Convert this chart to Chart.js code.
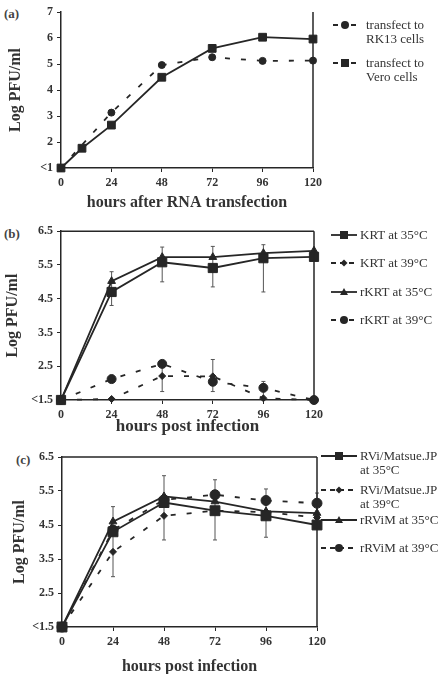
<!DOCTYPE html>
<html lang="en">
<head>
  <meta charset="UTF-8" />
  <title>Virus growth curves</title>
  <script src="https://cdn.jsdelivr.net/npm/chart.js"></script>
  <style>
    body {
      margin: 0;
      width: 444px;
      height: 674px;
      overflow: hidden;
      position: relative;
      background: #fff;
      font-family: 'Liberation Serif', 'Times New Roman', serif;
      color: #333;
    }
    canvas { position: absolute; left: 0; }
    .tag { position: absolute; font-size: 13px; font-weight: bold; color: #444; }
    .leg { position: absolute; left: 0; width: 444px; height: 30px; font-size: 13px; line-height: 14px; white-space: nowrap; }
    .leg svg { position: absolute; top: 0; }
    .leg span { position: absolute; top: 0; }
  </style>
</head>
<body>
  <div class="tag" style="left:4px;top:6px">(a)</div>
  <div class="tag" style="left:4px;top:226px">(b)</div>
  <div class="tag" style="left:16px;top:452px">(c)</div>
  <canvas id="chartA" width="330" height="215" style="top:0"></canvas>
  <canvas id="chartB" width="330" height="220" style="top:220px"></canvas>
  <canvas id="chartC" width="330" height="235" style="top:445px"></canvas>

  <script>
    const FONT = "'Liberation Serif', 'Times New Roman', serif";
    const INK = '#262626';

    // (a) RNA transfection
    const hoursA = [0, 10, 24, 48, 72, 96, 120];
    const rk13 = [1, null, 3.13, 4.96, 5.26, 5.12, 5.13];
    const vero = [1, 1.76, 2.65, 4.49, 5.6, 6.03, 5.96];
    const yTicksA = [1, 2, 3, 4, 5, 6, 7];
    const yLabelsA = ['<1', '2', '3', '4', '5', '6', '7'];

    // (b) KRT
    const hours = [0, 24, 48, 72, 96, 120];
    const krt35 = [1.5, 4.7, 5.58, 5.41, 5.7, 5.74];
    const krt39 = [1.5, 1.53, 2.21, 2.2, 1.55, 1.5];
    const rkrt35 = [1.5, 5.02, 5.73, 5.73, 5.85, 5.92];
    const rkrt39 = [1.5, 2.12, 2.57, 2.04, 1.86, 1.5];
    const errHoursB = [24, 48, 72, 96, 48, 72, 96];
    const errLowB = [4.3, 5.0, 4.85, 4.7, 1.75, 1.75, 1.5];
    const errHighB = [5.3, 6.03, 6.05, 6.1, 2.6, 2.7, 2.05];

    // (c) RVi/Matsue.JP
    const rvi35 = [1.5, 4.3, 5.16, 4.92, 4.77, 4.5];
    const rvi39 = [1.5, 3.71, 4.77, 4.92, 4.88, 4.72];
    const rrvim35 = [1.5, 4.6, 5.34, 5.19, 4.9, 4.85];
    const rrvim39 = [1.5, 4.35, 5.24, 5.39, 5.22, 5.14];
    const errHoursC = [24, 48, 72, 96, 120];
    const errLowC = [2.98, 4.06, 4.06, 4.14, 4.45];
    const errHighC = [5.04, 5.95, 5.83, 5.56, 5.44];

    const xTicks = [0, 24, 48, 72, 96, 120];
    const yTicksBC = [1.5, 2.5, 3.5, 4.5, 5.5, 6.5];
    const yLabelsBC = ['<1.5', '2.5', '3.5', '4.5', '5.5', '6.5'];

    const DASH = [5, 11];

    // draws the vertical error bars through the chart's scales
    const errorBars = {
      id: 'errorBars',
      beforeDatasetsDraw(chart, args, opts) {
        if (!opts.x) return;
        const { ctx, scales: { x, y } } = chart;
        ctx.save();
        ctx.strokeStyle = '#555';
        ctx.lineWidth = 1;
        opts.x.forEach((h, i) => {
          const px = x.getPixelForValue(h);
          const top = y.getPixelForValue(opts.high[i]);
          const bot = y.getPixelForValue(opts.low[i]);
          ctx.beginPath();
          ctx.moveTo(px, top); ctx.lineTo(px, bot);
          ctx.moveTo(px - 2, top); ctx.lineTo(px + 2, top);
          ctx.moveTo(px - 2, bot); ctx.lineTo(px + 2, bot);
          ctx.stroke();
        });
        ctx.restore();
      }
    };

    // extra sides of the plot frame
    const frame = {
      id: 'frame',
      afterDraw(chart, args, opts) {
        const { ctx, chartArea: a } = chart;
        ctx.save();
        ctx.strokeStyle = INK;
        ctx.lineWidth = 1.5;
        ctx.beginPath();
        if (opts.top) { ctx.moveTo(a.left, a.top); ctx.lineTo(a.right, a.top); }
        if (opts.right) { ctx.moveTo(a.right, a.top); ctx.lineTo(a.right, a.bottom); }
        ctx.stroke();
        ctx.restore();
      }
    };

    function series(xs, ys, dash, pointStyle, radius) {
      const data = [];
      xs.forEach((h, i) => { if (ys[i] !== null) data.push({ x: h, y: ys[i] }); });
      return {
        data,
        borderColor: INK,
        backgroundColor: INK,
        borderWidth: 1.8,
        borderDash: dash,
        pointStyle,
        pointRadius: radius,
        pointBackgroundColor: INK,
        pointBorderColor: INK,
        pointBorderWidth: 1,
        tension: 0,
        clip: false
      };
    }

    function makeChart(id, p) {
      const tickFont = { family: FONT, size: 12, weight: 'bold' };
      return new Chart(document.getElementById(id), {
        type: 'line',
        data: { datasets: p.datasets },
        options: {
          responsive: false,
          animation: false,
          devicePixelRatio: 1,
          layout: { padding: { left: 0, top: p.plotTop, right: p.width - p.plotRight, bottom: 0 } },
          plugins: {
            legend: { display: false },
            tooltip: { enabled: false },
            errorBars: p.errors || {},
            frame: p.frame
          },
          scales: {
            x: {
              type: 'linear',
              min: 0,
              max: 120,
              afterBuildTicks: s => { s.ticks = xTicks.map(v => ({ value: v })); },
              afterFit: s => { s.height = p.height - p.plotBottom; },
              grid: { display: true, drawOnChartArea: false, tickLength: 4, color: INK },
              border: { display: true, color: INK, width: 1.5 },
              ticks: { font: tickFont, color: '#333', padding: 4, maxRotation: 0 },
              title: {
                display: true, text: p.xTitle, color: '#333',
                font: { family: FONT, size: p.xTitleSize, weight: 'bold' },
                padding: { top: p.xTitlePad, bottom: p.xTitlePad }
              }
            },
            y: {
              min: p.yTicks[0],
              max: p.yTicks[p.yTicks.length - 1],
              afterBuildTicks: s => { s.ticks = p.yTicks.map(v => ({ value: v })); },
              afterFit: s => { s.width = p.plotLeft; },
              grid: { display: true, drawOnChartArea: false, tickLength: 4, color: INK },
              border: { display: true, color: INK, width: 1.5 },
              ticks: { font: tickFont, color: '#333', padding: 4, callback: (v, i) => p.yLabels[i] },
              title: {
                display: true, text: 'Log PFU/ml', color: '#333',
                font: { family: FONT, size: 16, weight: 'bold' },
                padding: { top: p.yTitlePad, bottom: p.yTitlePad }
              }
            }
          }
        },
        plugins: [errorBars, frame]
      });
    }

    makeChart('chartA', {
      width: 330, height: 215, plotLeft: 61, plotRight: 313, plotTop: 12, plotBottom: 168,
      xTitle: 'hours after RNA transfection', xTitleSize: 16, xTitlePad: 3, yTitlePad: 6,
      yTicks: yTicksA, yLabels: yLabelsA,
      frame: { right: true },
      datasets: [
        series(hoursA, rk13, DASH, 'circle', 3.5),
        series(hoursA, vero, [], 'rect', 5.5)
      ]
    });

    makeChart('chartB', {
      width: 330, height: 220, plotLeft: 61, plotRight: 314, plotTop: 11, plotBottom: 180,
      xTitle: 'hours post infection', xTitleSize: 17, xTitlePad: 3, yTitlePad: 3,
      yTicks: yTicksBC, yLabels: yLabelsBC,
      frame: { top: true, right: true },
      errors: { x: errHoursB, low: errLowB, high: errHighB },
      datasets: [
        series(hours, krt35, [], 'rect', 6.5),
        series(hours, krt39, DASH, 'rectRot', 3.5),
        series(hours, rkrt35, [], 'triangle', 4.5),
        series(hours, rkrt39, DASH, 'circle', 4.5)
      ]
    });

    makeChart('chartC', {
      width: 330, height: 235, plotLeft: 62, plotRight: 318, plotTop: 12, plotBottom: 182,
      xTitle: 'hours post infection', xTitleSize: 16, xTitlePad: 4, yTitlePad: 10,
      yTicks: yTicksBC, yLabels: yLabelsBC,
      frame: { top: true, right: true },
      errors: { x: errHoursC, low: errLowC, high: errHighC },
      datasets: [
        series(hours, rvi35, [], 'rect', 7),
        series(hours, rvi39, DASH, 'rectRot', 3.5),
        series(hours, rrvim35, [], 'triangle', 4.5),
        series(hours, rrvim39, DASH, 'circle', 5)
      ]
    });

    // legends
    function marker(shape, cx, cy) {
      if (shape === 'rect') return `<rect x="${cx - 4}" y="${cy - 4}" width="8" height="8" fill="${INK}"/>`;
      if (shape === 'triangle') return `<polygon points="${cx},${cy - 4} ${cx + 4},${cy + 3} ${cx - 4},${cy + 3}" fill="${INK}"/>`;
      if (shape === 'rectRot') return `<polygon points="${cx},${cy - 3.5} ${cx + 3.5},${cy} ${cx},${cy + 3.5} ${cx - 3.5},${cy}" fill="${INK}"/>`;
      return `<circle cx="${cx}" cy="${cy}" r="4" fill="${INK}"/>`;
    }

    function legend(items, pos) {
      items.forEach((it, i) => {
        const div = document.createElement('div');
        div.className = 'leg';
        div.style.top = (pos.ys[i] - 7) + 'px';
        const dash = it.dashed ? 'stroke-dasharray="5 4"' : '';
        div.innerHTML =
          `<svg style="left:${pos.sx}px" width="${pos.sw}" height="14">` +
          `<line x1="0" y1="7" x2="${pos.sw}" y2="7" stroke="${INK}" stroke-width="1.8" ${dash}/>` +
          marker(it.shape, pos.sw / 2, 7) + `</svg>` +
          `<span style="left:${pos.tx}px">${it.name.join('<br>')}</span>`;
        document.body.appendChild(div);
      });
    }

    legend([
      { name: ['transfect to', 'RK13 cells'], dashed: true, shape: 'circle' },
      { name: ['transfect to', 'Vero cells'], dashed: true, shape: 'rect' }
    ], { sx: 333, sw: 24, tx: 366, ys: [25, 63] });

    legend([
      { name: ['KRT at 35°C'], dashed: false, shape: 'rect' },
      { name: ['KRT at 39°C'], dashed: true, shape: 'rectRot' },
      { name: ['rKRT at 35°C'], dashed: false, shape: 'triangle' },
      { name: ['rKRT at 39°C'], dashed: true, shape: 'circle' }
    ], { sx: 331, sw: 26, tx: 360, ys: [235, 263, 292, 320] });

    legend([
      { name: ['RVi/Matsue.JP', 'at 35°C'], dashed: false, shape: 'rect' },
      { name: ['RVi/Matsue.JP', 'at 39°C'], dashed: true, shape: 'rectRot' },
      { name: ['rRViM at 35°C'], dashed: false, shape: 'triangle' },
      { name: ['rRViM at 39°C'], dashed: true, shape: 'circle' }
    ], { sx: 321, sw: 36, tx: 360, ys: [456, 490, 520, 548] });
  </script>
</body>
</html>
